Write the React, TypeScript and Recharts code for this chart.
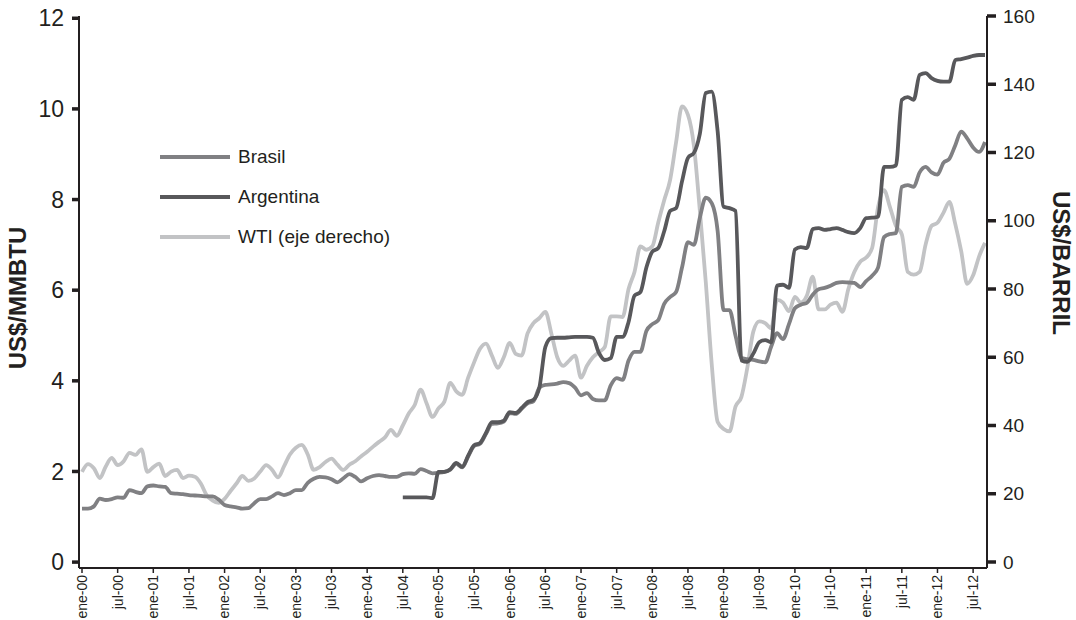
import { LineChart, Line, XAxis, YAxis } from 'recharts';

const MONTHS = ['ene', 'feb', 'mar', 'abr', 'may', 'jun', 'jul', 'ago', 'sep', 'oct', 'nov', 'dic'];
const YEARS = ['00', '01', '02', '03', '04', '05', '06', '07', '08', '09', '10', '11', '12'];

// monthly, ene-00 .. sep-12
const brasil = [
  1.18, 1.18, 1.23, 1.4, 1.37, 1.39, 1.43, 1.42, 1.59, 1.55, 1.52, 1.67,
  1.69, 1.67, 1.66, 1.52, 1.51, 1.5, 1.48, 1.47, 1.46, 1.45, 1.45, 1.38,
  1.26, 1.23, 1.21, 1.18, 1.19, 1.3, 1.39, 1.39, 1.45, 1.52, 1.48, 1.52,
  1.59, 1.59, 1.75, 1.84, 1.88, 1.87, 1.83, 1.76, 1.85, 1.94, 1.88, 1.78,
  1.85, 1.9, 1.92, 1.9, 1.88, 1.88, 1.94, 1.96, 1.95, 2.05, 2.01, 1.96,
  1.97, 1.99, 2.04, 2.17, 2.09, 2.33, 2.56, 2.61, 2.83, 3.05, 3.06, 3.1,
  3.29, 3.27, 3.38, 3.5, 3.55, 3.85, 3.91, 3.92, 3.94, 3.97, 3.95, 3.85,
  3.68, 3.73, 3.6, 3.57, 3.57, 3.9, 4.06, 4.02, 4.45, 4.64, 4.64, 5.1,
  5.25, 5.34, 5.7, 5.85, 5.96, 6.5, 7.06, 7.0, 7.6, 8.04, 7.92, 7.3,
  5.56, 5.56, 5.0, 4.5, 4.48, 4.46, 4.43, 4.41, 4.75, 5.05, 4.92, 5.25,
  5.6, 5.68, 5.72, 5.9, 6.02, 6.05, 6.1, 6.16, 6.18, 6.17, 6.16, 6.07,
  6.2, 6.32, 6.5, 7.17, 7.24, 7.26, 8.28, 8.32, 8.28, 8.6, 8.72, 8.6,
  8.55, 8.81, 8.9, 9.2, 9.5, 9.35, 9.15, 9.05, 9.27
];

const argentina = [
  null, null, null, null, null, null, null, null, null, null, null, null,
  null, null, null, null, null, null, null, null, null, null, null, null,
  null, null, null, null, null, null, null, null, null, null, null, null,
  null, null, null, null, null, null, null, null, null, null, null, null,
  null, null, null, null, null, null, 1.43, 1.43, 1.43, 1.43, 1.43, 1.41,
  1.99, 1.99, 2.05, 2.19, 2.1, 2.35, 2.58, 2.63, 2.85, 3.09, 3.09, 3.12,
  3.31, 3.29, 3.4, 3.53, 3.58, 3.86, 4.75, 4.94, 4.95, 4.95, 4.96, 4.97,
  4.97, 4.97, 4.95, 4.62, 4.46, 4.5, 4.97, 4.97, 5.3, 5.88, 5.96, 6.5,
  6.85, 6.93, 7.3, 7.75, 7.81, 8.4, 8.92, 9.03, 9.45, 10.35, 10.38, 9.5,
  7.84, 7.81, 7.75, 4.45, 4.42, 4.6, 4.85, 4.9, 4.85, 6.1, 6.12, 6.05,
  6.9, 6.95, 6.93, 7.35, 7.37, 7.33, 7.35, 7.37, 7.33, 7.28, 7.26, 7.37,
  7.59, 7.6, 7.62, 8.72, 8.72, 8.75, 10.2, 10.26, 10.2, 10.75, 10.79, 10.68,
  10.62, 10.6, 10.6, 11.08, 11.1, 11.13, 11.17, 11.19, 11.19
];

const wti = [
  26.4, 28.7, 27.5, 24.6, 28.0, 30.5, 28.4, 29.5, 32.0, 31.4, 33.0, 26.4,
  27.8, 28.8, 25.2, 26.5, 27.0, 24.6, 25.3, 25.0, 23.0, 19.5, 18.0, 17.3,
  18.5, 20.8, 23.0, 25.2, 23.8, 24.5, 26.5, 28.4, 27.0, 24.8, 28.0, 31.5,
  33.5, 34.3, 31.5, 27.0, 27.8, 29.3, 30.3, 28.5, 27.0, 28.5, 29.5, 31.0,
  32.3, 33.8, 35.2, 36.5, 38.7, 37.0, 40.0, 43.5, 46.0, 50.5, 46.5, 42.5,
  45.0, 47.0, 52.5, 50.0, 49.0, 54.0, 58.5, 62.5, 64.0, 60.5, 56.9, 60.0,
  64.2, 61.0, 60.5, 67.0, 70.0, 71.5, 73.3, 67.0, 60.0, 57.5, 59.0, 60.5,
  54.0, 57.5, 60.0, 61.5, 63.0, 72.0, 72.0, 71.8, 80.0, 85.0, 92.5, 91.5,
  92.5, 99.5, 106.0, 112.0, 123.0, 133.5, 131.0, 122.0, 103.0, 82.0, 58.0, 41.0,
  39.0, 38.3, 45.5, 48.4, 57.0, 67.5, 70.5, 70.0, 68.5, 76.8, 76.0, 73.5,
  77.7, 76.0, 78.0, 83.6, 74.0, 74.0, 75.4, 76.0, 73.3, 80.0, 85.0, 88.0,
  89.2, 92.0, 104.0, 109.0, 104.0, 98.5, 96.0, 85.0, 84.2, 85.0, 93.0, 98.5,
  99.4, 102.3, 105.5, 99.0, 91.0, 81.5, 84.0, 89.5, 93.5
];

const leftTicks = [0, 2, 4, 6, 8, 10, 12];
const rightTicks = [0, 20, 40, 60, 80, 100, 120, 140, 160];

const months = YEARS.flatMap((y) => MONTHS.map((m) => `${m}-${y}`)).slice(0, wti.length);

const data = months.map((month, i) => ({
  month,
  brasil: brasil[i],
  argentina: argentina[i],
  wti: wti[i]
}));

const FONT = "'Liberation Sans', Arial, Helvetica, sans-serif";
const INK = '#231f20';

const series = [
  { key: 'brasil', name: 'Brasil', color: '#808083' },
  { key: 'argentina', name: 'Argentina', color: '#58585b' },
  { key: 'wti', name: 'WTI (eje derecho)', color: '#c2c3c5' }
];

const MonthTick = (props: any) => {
  const { x, y, payload } = props;
  return (
    <text
      x={x}
      y={y}
      transform={`rotate(-90, ${x}, ${y})`}
      textAnchor="end"
      dy="0.35em"
      fontSize={14}
      fill={INK}
      fontFamily={FONT}
    >
      {payload.value}
    </text>
  );
};

export default function App() {
  return (
    <div style={{ position: 'absolute', left: 0, top: 0, width: 1076, height: 620, background: '#fff' }}>
      <LineChart
        width={1076}
        height={620}
        data={data}
        margin={{ top: 16, right: 0, bottom: 0, left: 0 }}
      >
        <XAxis
          dataKey="month"
          interval={5}
          height={52}
          tickSize={5}
          tickMargin={2}
          padding={{ left: 3, right: 2 }}
          axisLine={{ stroke: INK, strokeWidth: 2 }}
          tickLine={{ stroke: INK, strokeWidth: 1.5 }}
          tick={<MonthTick />}
        />
        <YAxis
          yAxisId="left"
          width={79}
          domain={[-0.13, 12.05]}
          ticks={leftTicks}
          tickSize={7}
          tickMargin={8}
          axisLine={{ stroke: INK, strokeWidth: 2 }}
          tickLine={{ stroke: INK, strokeWidth: 3.5 }}
          tick={{ fontSize: 23, fill: INK, fontFamily: FONT }}
        />
        <YAxis
          yAxisId="right"
          orientation="right"
          width={89}
          domain={[-1.76, 160]}
          ticks={rightTicks}
          tickSize={9}
          tickMargin={7}
          axisLine={{ stroke: INK, strokeWidth: 2 }}
          tickLine={{ stroke: INK, strokeWidth: 3.5 }}
          tick={{ fontSize: 19, fill: INK, fontFamily: FONT }}
        />
        <Line
          yAxisId="right"
          type="monotone"
          dataKey="wti"
          stroke="#c2c3c5"
          strokeWidth={3.8}
          dot={false}
          isAnimationActive={false}
        />
        <Line
          yAxisId="left"
          type="monotone"
          dataKey="brasil"
          stroke="#808083"
          strokeWidth={3.8}
          dot={false}
          isAnimationActive={false}
        />
        <Line
          yAxisId="left"
          type="monotone"
          dataKey="argentina"
          stroke="#58585b"
          strokeWidth={3.8}
          dot={false}
          connectNulls={false}
          isAnimationActive={false}
        />
      </LineChart>

      {/* legend inside plot */}
      <div style={{ position: 'absolute', left: 160, top: 137, fontFamily: FONT, fontSize: 19, color: INK }}>
        {series.map((s) => (
          <div key={s.key} style={{ display: 'flex', alignItems: 'center', height: 40 }}>
            <div style={{ width: 70, height: 4, background: s.color, marginRight: 8 }} />
            <span>{s.name}</span>
          </div>
        ))}
      </div>

      {/* axis titles */}
      <div
        style={{
          position: 'absolute',
          left: 18,
          top: 298,
          transform: 'translate(-50%, -50%) rotate(-90deg)',
          whiteSpace: 'nowrap',
          fontFamily: FONT,
          fontWeight: 'bold',
          fontSize: 24,
          color: INK
        }}
      >
        US$/MMBTU
      </div>
      <div
        style={{
          position: 'absolute',
          left: 1061,
          top: 263,
          transform: 'translate(-50%, -50%) rotate(90deg)',
          whiteSpace: 'nowrap',
          fontFamily: FONT,
          fontWeight: 'bold',
          fontSize: 24,
          color: INK
        }}
      >
        US$/BARRIL
      </div>
    </div>
  );
}
